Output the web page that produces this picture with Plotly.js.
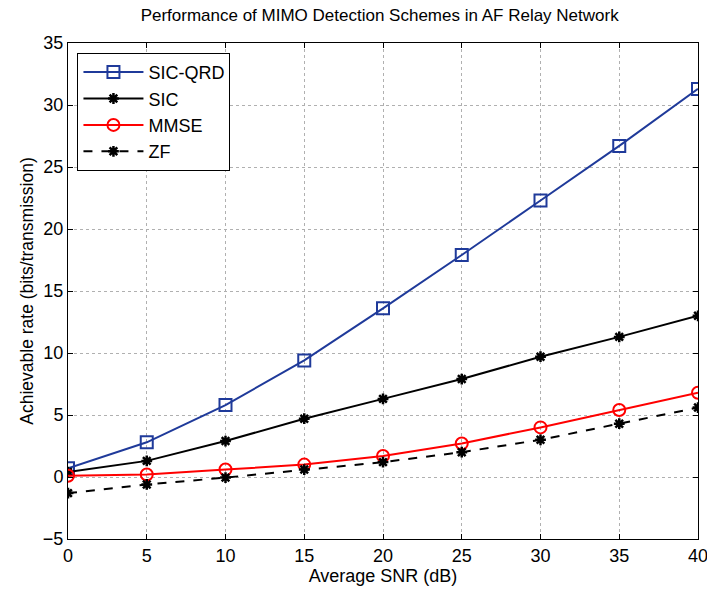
<!DOCTYPE html>
<html><head><meta charset="utf-8">
<script src="https://cdn.plot.ly/plotly-3.0.1.min.js"></script>
<style>html,body{margin:0;padding:0;background:#fff}</style>
</head><body>
<div id="chart" style="width:707px;height:590px"></div>
<script>
const snr = [0, 5, 10, 15, 20, 25, 30, 35, 40];
const sicQrd = [0.7, 2.8, 5.8, 9.4, 13.6, 17.9, 22.3, 26.7, 31.3];
const sic = [0.4, 1.3, 2.9, 4.7, 6.3, 7.9, 9.7, 11.3, 13.0];
const mmse = [0.1, 0.2, 0.6, 1.0, 1.7, 2.7, 4.0, 5.4, 6.8];
const zf = [-1.3, -0.6, -0.05, 0.6, 1.2, 2.0, 3.0, 4.3, 5.6];
const names = ["SIC-QRD", "SIC", "MMSE", "ZF"];
const xTicks = [0, 5, 10, 15, 20, 25, 30, 35, 40];
const yTicks = [-5, 0, 5, 10, 15, 20, 25, 30, 35];

const FONT = "Liberation Sans, Arial, sans-serif";
const traces = [
  {x: snr, y: sicQrd, name: names[0], mode: "lines+markers",
   line: {color: "#1f3a9a", width: 2},
   marker: {symbol: "square-open", size: 12, color: "#1f3a9a", line: {width: 2, color: "#1f3a9a"}}},
  {x: snr, y: sic, name: names[1], mode: "lines+markers",
   line: {color: "#000000", width: 2},
   marker: {symbol: "asterisk-open", size: 9, color: "#000000", line: {width: 2.5, color: "#000000"}}},
  {x: snr, y: mmse, name: names[2], mode: "lines+markers",
   line: {color: "#ff0000", width: 2},
   marker: {symbol: "circle-open", size: 12, color: "#ff0000", line: {width: 2, color: "#ff0000"}}},
  {x: snr, y: zf, name: names[3], mode: "lines+markers",
   line: {color: "#000000", width: 2, dash: "dash"},
   marker: {symbol: "asterisk-open", size: 9, color: "#000000", line: {width: 2.5, color: "#000000"}}}
];

const axisCommon = {
  showline: true, mirror: "ticks", linecolor: "#000", linewidth: 1,
  ticks: "inside", ticklen: 5, tickcolor: "#000",
  showgrid: true, gridcolor: "#b0b0b0", griddash: "dot", gridwidth: 1,
  zeroline: false, ticklabeloverflow: "allow",
  tickfont: {family: FONT, size: 18, color: "#000"}
};

const layout = {
  width: 707, height: 590,
  margin: {l: 68, r: 9, t: 43, b: 51},
  paper_bgcolor: "#fff", plot_bgcolor: "#fff",
  title: {text: "Performance of MIMO Detection Schemes in AF Relay Network",
    font: {family: FONT, size: 17, color: "#000"},
    x: 0.537, xanchor: "center", y: 0.985, yanchor: "top"},
  xaxis: Object.assign({}, axisCommon, {
    range: [0, 40], tickvals: xTicks,
    title: {text: "Average SNR (dB)", standoff: 1,
      font: {family: FONT, size: 18, color: "#000"}}
  }),
  yaxis: Object.assign({}, axisCommon, {
    range: [-5, 35], tickvals: yTicks,
    title: {text: "Achievable rate (bits/transmission)", standoff: 4,
      font: {family: FONT, size: 17.5, color: "#000"}}
  }),
  showlegend: true,
  legend: {x: 0.015, y: 0.98, xanchor: "left", yanchor: "top",
    bgcolor: "#fff", bordercolor: "#000", borderwidth: 1,
    font: {family: FONT, size: 18, color: "#000"},
    tracegroupgap: 0, itemwidth: 60}
};

Plotly.newPlot("chart", traces, layout, {displayModeBar: false, staticPlot: true});
</script>
</body></html>
